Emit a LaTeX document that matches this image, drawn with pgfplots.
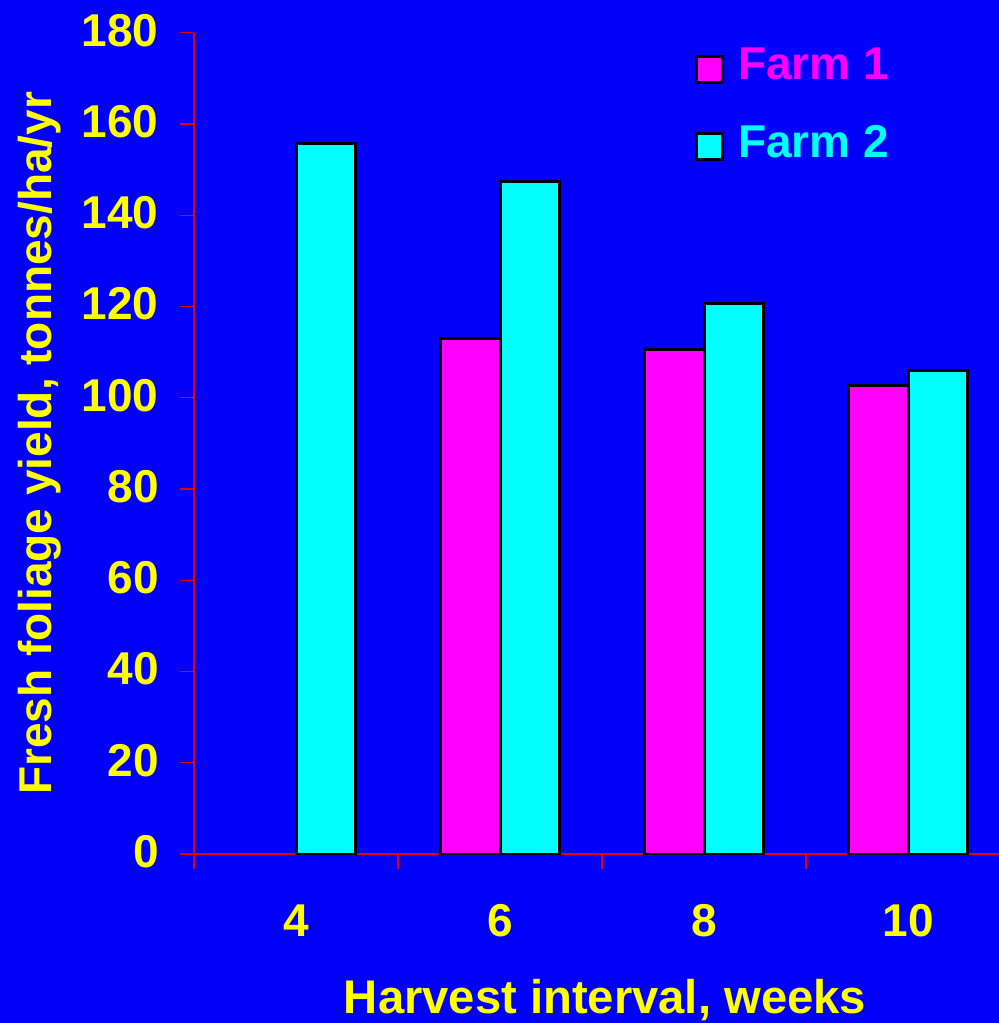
\documentclass[border=0pt]{standalone}
\usepackage{fontspec}
\setmainfont{Liberation Sans}
\usepackage{pgfplots}
\pgfplotsset{compat=1.18}

\definecolor{bgblue}{RGB}{0,0,250}
\definecolor{axred}{RGB}{230,0,0}
\definecolor{farmone}{RGB}{255,0,255}
\definecolor{farmtwo}{RGB}{0,255,255}
\definecolor{txt}{RGB}{255,255,0}

\newcommand{\bigbf}{\bfseries\fontsize{23}{27}\selectfont}

\begin{document}
\begin{tikzpicture}
% background, 1 px of the reference = 0.5pt
\fill[bgblue] (0pt,0pt) rectangle (499.5pt,511.5pt);
\begin{axis}[
  at={(97pt,84.5pt)}, anchor=south west,
  width=402.5pt, height=410.65pt,
  scale only axis,
  ybar, ybar=0pt, bar width=0.294,
  xmin=-0.5, xmax=3.446,
  ymin=0, ymax=180,
  axis lines*=left,
  axis line style={axred, line width=0.6pt},
  xtick={0,1,2,3},
  xticklabels={4,6,8,10},
  minor xtick={-0.5,0.5,1.5,2.5},
  major x tick style={draw=none},
  ytick={0,20,...,180},
  tick align=outside,
  tick style={axred, line width=0.6pt},
  major tick length=7pt,
  minor tick length=7.5pt,
  /pgf/number format/assume math mode=true,
  ticklabel style={font=\bigbf, text=txt},
  xticklabel style={inner sep=0pt, anchor=north, yshift=-18pt},
  yticklabel style={inner sep=0pt, anchor=east, xshift=-10.5pt, yshift=1.2pt},
  xlabel={Harvest interval, weeks},
  ylabel={Fresh foliage yield, tonnes/ha/yr},
  label style={font=\bigbf, text=txt, inner sep=0pt},
  xlabel style={at={(axis description cs:0.5106,-0.1525)}, anchor=north,
    font=\bfseries\fontsize{23.6}{27}\selectfont},
  ylabel style={at={(axis description cs:-0.2187,0.5)}, anchor=north, rotate=0},
  legend style={draw=none, fill=none, at={(axis description cs:0.622,0.984)},
    anchor=north west, inner sep=0pt, row sep=19pt,
    font=\bigbf, nodes={inner sep=1pt}},
  legend cell align=left,
  legend image code/.code={
    \draw[#1, line width=1.5pt] (0pt,-8.5pt) rectangle (13pt,4.5pt);
    \path (19pt,0pt);},
]
\addplot[fill=farmone, draw=black, line width=1.5pt] coordinates {
  (1,112.9) (2,110.6) (3,102.7)
};
\addlegendentry{\textcolor{farmone}{Farm 1}}
\addplot[fill=farmtwo, draw=black, line width=1.5pt] coordinates {
  (0,155.7) (1,147.3) (2,120.7) (3,105.9)
};
\addlegendentry{\textcolor{farmtwo}{Farm 2}}
\end{axis}
\pgfresetboundingbox
\path (0pt,0pt) rectangle (499.5pt,511.5pt);
\end{tikzpicture}
\end{document}
